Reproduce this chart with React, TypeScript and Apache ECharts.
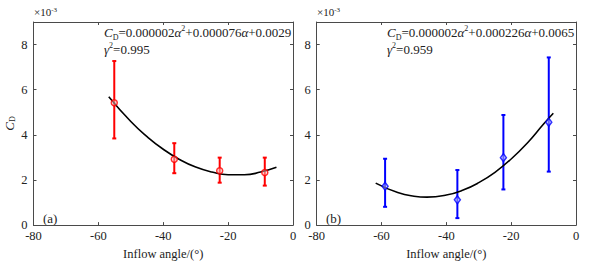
import React, { useEffect, useRef } from "react";
import * as echarts from "echarts";

// Panel (a) — red, circles
const anglesA = [-55.1, -36.6, -22.6, -8.7];
const cdA = [5.42, 2.92, 2.41, 2.33];
const lowA = [3.84, 2.3, 1.88, 1.75];
const highA = [7.27, 3.63, 2.99, 2.99];
const fitXA = [-56.8, -50, -45, -40, -35, -30, -25, -20, -15, -10, -5.1];
const fitYA = [5.69, 4.59, 3.92, 3.36, 2.91, 2.57, 2.35, 2.23, 2.23, 2.35, 2.56];

// Panel (b) — blue, diamonds
const anglesB = [-58.9, -36.6, -22.4, -8.4];
const cdB = [1.72, 1.12, 2.99, 4.56];
const lowB = [0.81, 0.31, 1.58, 2.37];
const highB = [2.94, 2.44, 4.88, 7.43];
const fitXB = [-61.8, -55, -50, -46, -40, -35, -30, -25, -20, -15, -10, -7];
const fitYB = [1.86, 1.44, 1.28, 1.24, 1.33, 1.54, 1.88, 2.34, 2.93, 3.64, 4.48, 4.96];

const xTicks = { min: -80, max: 0, interval: 20 };
const yTicks = { min: 0, max: 9, interval: 2 };

const FONT = "Liberation Serif";
const AXIS_COLOR = "#4a4a4a";
const TEXT_COLOR = "#222";

export default function App() {
  const ref = useRef<HTMLDivElement>(null);
  useEffect(() => {
    if (!ref.current) return;
    const chart = echarts.init(ref.current, undefined, { renderer: "svg" });

    const grids = [
      { left: 33.5, top: 22, width: 259.5, height: 209 },
      { left: 316.7, top: 22, width: 259.3, height: 209 },
    ];

    const baseX = (gi: number, pos: "bottom" | "top", labels: boolean) => ({
      type: "value",
      gridIndex: gi,
      position: pos,
      min: xTicks.min,
      max: xTicks.max,
      interval: xTicks.interval,
      axisLine: { show: true, onZero: false, lineStyle: { color: AXIS_COLOR, width: 1 } },
      axisTick: { show: true, inside: true, length: 3, lineStyle: { color: AXIS_COLOR } },
      axisLabel: {
        show: labels,
        margin: 4,
        color: TEXT_COLOR,
        fontFamily: FONT,
        fontSize: 12.5,
        formatter: (v: number) => String(v),
      },
      splitLine: { show: false },
      name: labels ? "Inflow angle/(°)" : "",
      nameLocation: "middle",
      nameGap: 19,
      nameTextStyle: { color: TEXT_COLOR, fontFamily: FONT, fontSize: 12.5 },
    });

    const baseY = (gi: number, pos: "left" | "right", labels: boolean, name: boolean) => ({
      type: "value",
      gridIndex: gi,
      position: pos,
      min: yTicks.min,
      max: yTicks.max,
      interval: yTicks.interval,
      axisLine: { show: true, onZero: false, lineStyle: { color: AXIS_COLOR, width: 1 } },
      axisTick: { show: true, inside: true, length: 3, lineStyle: { color: AXIS_COLOR } },
      axisLabel: {
        show: labels,
        showMaxLabel: false,
        margin: 6,
        color: TEXT_COLOR,
        fontFamily: FONT,
        fontSize: 12.5,
      },
      splitLine: { show: false },
      name: name ? "{i|C}{sub|D}" : "",
      nameLocation: "middle",
      nameGap: 17,
      nameRotate: 90,
      nameTextStyle: {
        color: TEXT_COLOR,
        fontFamily: FONT,
        rich: {
          i: { fontStyle: "italic", fontSize: 13, fontFamily: FONT, color: TEXT_COLOR },
          sub: { fontSize: 8, fontFamily: FONT, color: TEXT_COLOR, verticalAlign: "bottom", padding: [6, 0, 0, 0] },
        },
      },
    });

    const errSeries = (xi: number, xs: number[], lo: number[], hi: number[], color: string) => ({
      type: "custom",
      xAxisIndex: xi,
      yAxisIndex: xi,
      data: xs.map((x, i) => [x, lo[i], hi[i]]),
      renderItem: (params: any, api: any) => {
        const x = api.value(0);
        const p1 = api.coord([x, api.value(1)]);
        const p2 = api.coord([x, api.value(2)]);
        const cap = 2;
        const style = { stroke: color, lineWidth: 2 };
        return {
          type: "group",
          children: [
            { type: "line", shape: { x1: p1[0], y1: p1[1], x2: p2[0], y2: p2[1] }, style },
            { type: "line", shape: { x1: p1[0] - cap, y1: p1[1], x2: p1[0] + cap, y2: p1[1] }, style },
            { type: "line", shape: { x1: p2[0] - cap, y1: p2[1], x2: p2[0] + cap, y2: p2[1] }, style },
          ],
        };
      },
      z: 2,
    });

    const richEq = {
      i: { fontStyle: "italic", fontFamily: FONT, fontSize: 13, fill: TEXT_COLOR, lineHeight: 17 },
      t: { fontFamily: FONT, fontSize: 13, fill: TEXT_COLOR, lineHeight: 17 },
      sub: { fontFamily: FONT, fontSize: 8, fill: TEXT_COLOR, lineHeight: 17, verticalAlign: "bottom", padding: [4, 0, 0, 0] },
      sup: { fontFamily: FONT, fontSize: 8, fill: TEXT_COLOR, lineHeight: 17, verticalAlign: "top", padding: [0, 0, 4, 0] },
    };

    const expText = (left: number) => ({
      type: "text",
      left,
      top: 6,
      style: {
        text: "{t|×10}{sup|-3}",
        fontFamily: FONT,
        rich: {
          t: { fontFamily: FONT, fontSize: 11, fill: TEXT_COLOR },
          sup: { fontFamily: FONT, fontSize: 7, fill: TEXT_COLOR, verticalAlign: "top", padding: [0, 0, 4, 0] },
        },
      },
    });

    const option: any = {
      animation: false,
      backgroundColor: "#fff",
      textStyle: { fontFamily: FONT },
      grid: grids,
      xAxis: [baseX(0, "bottom", true), baseX(1, "bottom", true), baseX(0, "top", false), baseX(1, "top", false)],
      yAxis: [baseY(0, "left", true, true), baseY(1, "left", true, false), baseY(0, "right", false, false), baseY(1, "right", false, false)],
      series: [
        {
          type: "line",
          xAxisIndex: 0,
          yAxisIndex: 0,
          data: fitXA.map((x, i) => [x, fitYA[i]]),
          smooth: true,
          symbol: "none",
          lineStyle: { color: "#000", width: 1.6 },
          z: 3,
        },
        {
          type: "line",
          xAxisIndex: 1,
          yAxisIndex: 1,
          data: fitXB.map((x, i) => [x, fitYB[i]]),
          smooth: true,
          symbol: "none",
          lineStyle: { color: "#000", width: 1.6 },
          z: 3,
        },
        errSeries(0, anglesA, lowA, highA, "#ff0000"),
        errSeries(1, anglesB, lowB, highB, "#0000ff"),
        {
          type: "scatter",
          xAxisIndex: 0,
          yAxisIndex: 0,
          data: anglesA.map((x, i) => [x, cdA[i]]),
          symbol: "circle",
          symbolSize: 6,
          itemStyle: { color: "rgba(255,200,200,0.6)", borderColor: "#ff0000", borderWidth: 1.5 },
          z: 4,
        },
        {
          type: "scatter",
          xAxisIndex: 1,
          yAxisIndex: 1,
          data: anglesB.map((x, i) => [x, cdB[i]]),
          symbol: "diamond",
          symbolSize: [6, 8],
          itemStyle: { color: "rgba(200,200,255,0.6)", borderColor: "#0000ff", borderWidth: 1.5 },
          z: 4,
        },
      ],
      graphic: [
        expText(34),
        expText(317),
        {
          type: "text",
          left: 104,
          top: 24,
          style: {
            text: "{i|C}{sub|D}{t|=0.000002}{i|α}{sup|2}{t|+0.000076}{i|α}{t|+0.0029}\n{i|γ}{sup|2}{t|=0.995}",
            fontFamily: FONT,
            rich: richEq,
          },
        },
        {
          type: "text",
          left: 387,
          top: 24,
          style: {
            text: "{i|C}{sub|D}{t|=0.000002}{i|α}{sup|2}{t|+0.000226}{i|α}{t|+0.0065}\n{i|γ}{sup|2}{t|=0.959}",
            fontFamily: FONT,
            rich: richEq,
          },
        },
        {
          type: "text",
          left: 43,
          top: 212,
          style: { text: "(a)", fontFamily: FONT, fontSize: 13, fill: TEXT_COLOR },
        },
        {
          type: "text",
          left: 326,
          top: 212,
          style: { text: "(b)", fontFamily: FONT, fontSize: 13, fill: TEXT_COLOR },
        },
      ],
    };

    chart.setOption(option);
    return () => chart.dispose();
  }, []);

  return (
    <div
      ref={ref}
      style={{ position: "fixed", left: 0, top: 0, width: 591, height: 265, background: "#fff" }}
    />
  );
}
